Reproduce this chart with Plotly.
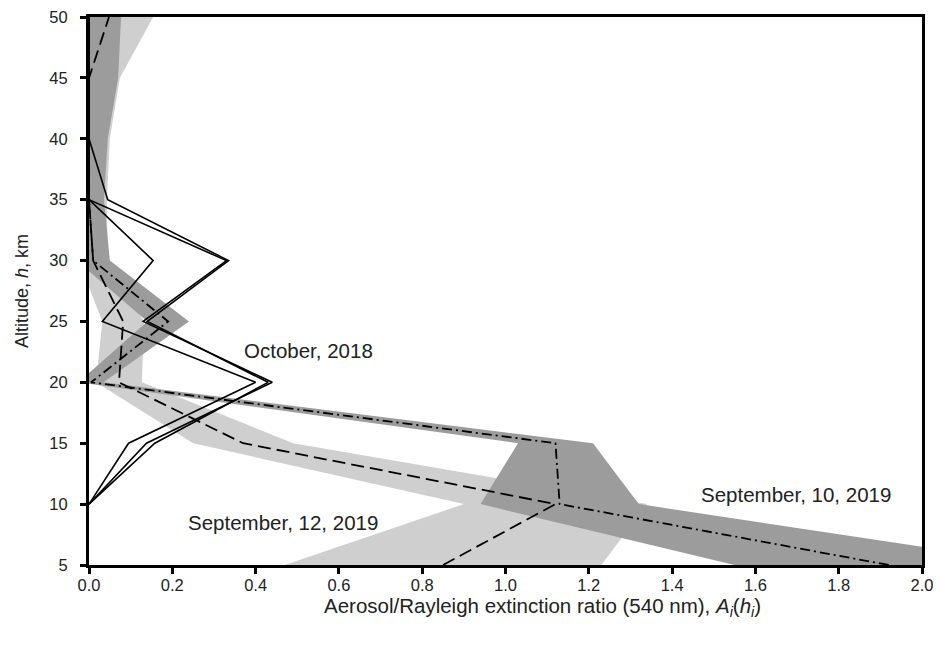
import plotly.graph_objects as go

# Altitudes (km)
altitude = [5, 10, 15, 20, 25, 30, 35, 40, 45, 50]

# September 10, 2019 (dash-dot, dark band)
sep10_ratio = [1.92, 1.13, 1.12, 0.005, 0.19, 0.01, 0.0, 0.0, 0.0, 0.0]
sep10_err = [0.37, 0.19, 0.09, 0.03, 0.05, 0.04, 0.036, 0.045, 0.07, 0.077]

# September 12, 2019 (dashed, light band)
sep12_ratio = [0.85, 1.12, 0.37, 0.072, 0.082, 0.01, 0.0, 0.0, 0.0, 0.048]
sep12_err = [0.38, 0.22, 0.12, 0.055, 0.05, 0.035, 0.043, 0.05, 0.074, 0.106]

# October, 2018 (three solid profiles, from 10 km)
oct_altitude = [10, 15, 20, 25, 30, 35, 40, 45, 50]
oct_a = [0.0, 0.095, 0.40, 0.032, 0.154, 0.0, 0.0, 0.0, 0.0]
oct_b = [0.0, 0.138, 0.44, 0.13, 0.33, 0.0, 0.0, 0.0, 0.0]
oct_c = [0.0, 0.158, 0.43, 0.14, 0.335, 0.045, 0.0, 0.0, 0.0]

x_ticks = [0.0, 0.2, 0.4, 0.6, 0.8, 1.0, 1.2, 1.4, 1.6, 1.8, 2.0]
y_ticks = [5, 10, 15, 20, 25, 30, 35, 40, 45, 50]

labels = ["October, 2018", "September, 12, 2019", "September, 10, 2019"]
x_title = "Aerosol/Rayleigh extinction ratio (540 nm), <i>A<sub>i</sub></i>(<i>h<sub>i</sub></i>)"
y_title = "Altitude, <i>h</i>, km"

FONT = "Liberation Sans, Arial, sans-serif"


def band(center, err, h):
    lo = [c - e for c, e in zip(center, err)]
    hi = [c + e for c, e in zip(center, err)]
    return lo + hi[::-1], list(h) + list(h)[::-1]


fig = go.Figure()

bx, by = band(sep12_ratio, sep12_err, altitude)
fig.add_trace(go.Scatter(x=bx, y=by, fill="toself", mode="none",
                         fillcolor="#cfcfcf", hoverinfo="skip", showlegend=False))
bx, by = band(sep10_ratio, sep10_err, altitude)
fig.add_trace(go.Scatter(x=bx, y=by, fill="toself", mode="none",
                         fillcolor="#9c9c9c", hoverinfo="skip", showlegend=False))

fig.add_trace(go.Scatter(x=sep12_ratio, y=altitude, mode="lines",
                         line=dict(color="black", width=1.8, dash="13px,6px"),
                         showlegend=False))
fig.add_trace(go.Scatter(x=sep10_ratio, y=altitude, mode="lines",
                         line=dict(color="black", width=1.8, dash="10px,4px,2px,4px"),
                         showlegend=False))
for prof in (oct_a, oct_b, oct_c):
    fig.add_trace(go.Scatter(x=prof, y=oct_altitude, mode="lines",
                             line=dict(color="black", width=1.6),
                             showlegend=False))

ann_font = dict(family=FONT, size=20.5, color="#222")
fig.add_annotation(x=0.526, y=22.6, text=labels[0], showarrow=False, font=ann_font)
fig.add_annotation(x=0.466, y=8.5, text=labels[1], showarrow=False, font=ann_font)
fig.add_annotation(x=1.697, y=10.75, text=labels[2], showarrow=False, font=ann_font)

# axis titles
fig.add_annotation(xref="paper", yref="paper", x=0.545, y=0, yshift=-42,
                   xanchor="center", yanchor="middle", text=x_title, showarrow=False,
                   font=dict(family=FONT, size=20.5, color="#222"))
fig.add_annotation(xref="paper", yref="paper", x=0, xshift=-67, y=0.5,
                   xanchor="center", yanchor="middle", textangle=-90, text=y_title,
                   showarrow=False, font=dict(family=FONT, size=18, color="#222"))

axis_common = dict(
    showline=True, linecolor="black", linewidth=3, mirror=True,
    ticks="outside", ticklen=6, tickwidth=2.5, tickcolor="black",
    showgrid=False, zeroline=False, automargin=False,
    ticklabeloverflow="allow",
    tickfont=dict(family=FONT, size=16.5, color="#222"),
)

fig.update_xaxes(range=[0, 2], tickvals=x_ticks, tickformat=".1f",
                 ticklabelstandoff=-3, **axis_common)
fig.update_yaxes(range=[5, 50], tickvals=y_ticks, ticklabelstandoff=9,
                 **axis_common)

fig.update_layout(
    width=941, height=646,
    margin=dict(l=81, r=27, t=9, b=89),
    plot_bgcolor="white", paper_bgcolor="white",
    showlegend=False,
)

fig.write_html("out.html")
